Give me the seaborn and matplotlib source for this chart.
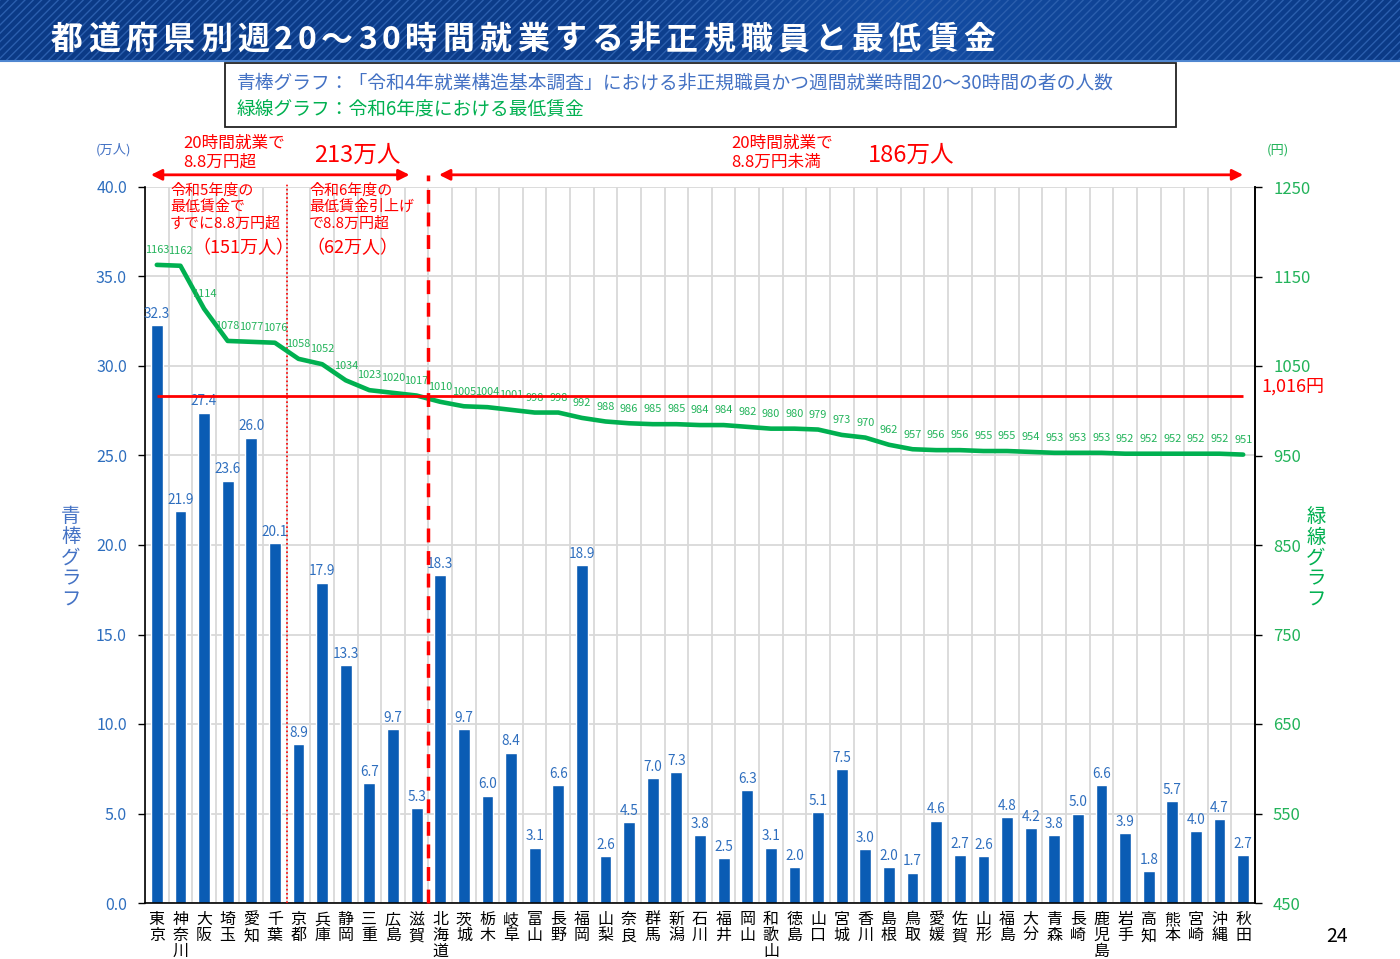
import numpy as np
import pandas as pd
import matplotlib
matplotlib.use("Agg")
import matplotlib.pyplot as plt
import seaborn as sns
from matplotlib.patches import Rectangle

# -----------------------------
# DATA
# -----------------------------
prefs = ["東京", "神奈川", "大阪", "埼玉", "愛知", "千葉", "京都", "兵庫", "静岡", "三重",
         "広島", "滋賀", "北海道", "茨城", "栃木", "岐阜", "富山", "長野", "福岡", "山梨",
         "奈良", "群馬", "新潟", "石川", "福井", "岡山", "和歌山", "徳島", "山口", "宮城",
         "香川", "島根", "鳥取", "愛媛", "佐賀", "山形", "福島", "大分", "青森", "長崎",
         "鹿児島", "岩手", "高知", "熊本", "宮崎", "沖縄", "秋田"]
workers = [32.3, 21.9, 27.4, 23.6, 26.0, 20.1, 8.9, 17.9, 13.3, 6.7,
           9.7, 5.3, 18.3, 9.7, 6.0, 8.4, 3.1, 6.6, 18.9, 2.6,
           4.5, 7.0, 7.3, 3.8, 2.5, 6.3, 3.1, 2.0, 5.1, 7.5,
           3.0, 2.0, 1.7, 4.6, 2.7, 2.6, 4.8, 4.2, 3.8, 5.0,
           6.6, 3.9, 1.8, 5.7, 4.0, 4.7, 2.7]
wages = [1163, 1162, 1114, 1078, 1077, 1076, 1058, 1052, 1034, 1023,
         1020, 1017, 1010, 1005, 1004, 1001, 998, 998, 992, 988,
         986, 985, 985, 984, 984, 982, 980, 980, 979, 973,
         970, 962, 957, 956, 956, 955, 955, 954, 953, 953,
         953, 952, 952, 952, 952, 952, 951]
threshold = 1016
group_sizes = [6, 6, 35]   # 令和5年度で超 / 令和6年度で超 / 未満

title = "都道府県別週20～30時間就業する非正規職員と最低賃金"

# -----------------------------
# STYLE
# -----------------------------
sns.set_theme(style="white")
plt.rcParams['font.family'] = ['Noto Sans CJK JP', 'DejaVu Sans']

BAR = "#0A5CB4"
GREEN = "#00B050"
GREEN_TXT = "#22B35A"
BLUE_TXT = "#2E6EBE"
RED = "#FF0000"
GRID = "#D9D9D9"

W, H = 1400, 959
fig = plt.figure(figsize=(14, 9.59), dpi=100)


def px(x, y):
    return x / W, 1 - y / H


# -----------------------------
# TITLE BAND
# -----------------------------
band = fig.add_axes([0, 1 - 60 / H, 1, 60 / H])
grad = np.interp(np.linspace(0, 1, 400), [0, 0.45, 0.65, 0.8, 1.0], [0.0, 0.1, 0.6, 0.3, 0.0])
c0 = np.array(matplotlib.colors.to_rgb("#0B3A86"))
c1 = np.array(matplotlib.colors.to_rgb("#1A5AB8"))
img = c0[None, None, :] * (1 - grad[None, :, None]) + c1[None, None, :] * grad[None, :, None]
band.imshow(img, aspect="auto", extent=[0, 1, 0, 1])
band.add_patch(Rectangle((0, 0), 1, 1, facecolor="none", edgecolor="#2B5FAE", hatch="////", lw=0))
band.set_xlim(0, 1)
band.set_ylim(0, 1)
band.axis("off")
fig.add_artist(plt.Line2D([0, 1], [1 - 61 / H, 1 - 61 / H], color="#4F86D0", lw=1.5))

x0 = 51
for ch in title:
    fig.text(*px(x0, 40), ch, color="white", fontsize=23, fontweight="bold",
             ha="left", va="center")
    x0 += 23.5 if ord(ch) < 128 else 37.2

# -----------------------------
# LEGEND BOX
# -----------------------------
fig.add_artist(Rectangle(px(225, 127), 951 / W, 64 / H, facecolor="white",
                         edgecolor="#222222", lw=1.3))
fig.text(*px(237, 83), "青棒グラフ：「令和4年就業構造基本調査」における非正規職員かつ週間就業時間20～30時間の者の人数",
         color="#4472C4", fontsize=13.5, ha="left", va="center")
fig.text(*px(237, 110), "緑線グラフ：令和6年度における最低賃金",
         color=GREEN, fontsize=13.5, ha="left", va="center")

# -----------------------------
# MAIN AXES
# -----------------------------
ax = fig.add_axes([145 / W, 1 - 903 / H, 1110 / W, 716 / H])
df = pd.DataFrame({"pref": prefs, "workers": workers, "wage": wages,
                   "pos": np.arange(len(prefs))})

sns.barplot(data=df, x="pref", y="workers", color=BAR, saturation=1, width=0.5,
            ax=ax, zorder=2)
ax.bar_label(ax.containers[0], fmt="%.1f", padding=3, fontsize=9.8, color=BLUE_TXT)

n = len(prefs)
ax.set_xlim(-0.5, n - 0.5)
ax.set_ylim(0, 40)
ax.set_yticks(np.arange(0, 40.1, 5))
ax.set_yticklabels([f"{v:.1f}" for v in np.arange(0, 40.1, 5)], color=BLUE_TXT, fontsize=11.5)
ax.set_xticks(np.arange(n))
ax.set_xticklabels(["\n".join(p) for p in prefs], fontsize=11.5, color="black",
                   linespacing=0.92, va="top")
ax.set_xticks(np.arange(n + 1) - 0.5, minor=True)
ax.tick_params(axis="x", which="major", length=0, pad=6)
ax.tick_params(axis="x", which="minor", length=6, width=1, color="black", direction="out")
ax.tick_params(axis="y", length=5, width=1, color="black", direction="out", pad=8, left=True)
ax.set_xlabel("")
ax.set_ylabel("")
ax.set_axisbelow(True)
ax.grid(False)
ax.grid(axis="x", which="minor", color=GRID, lw=1.3)
ax.grid(axis="y", which="major", color=GRID, lw=1.3)
for s in ["left", "bottom", "right"]:
    ax.spines[s].set_color("black")
    ax.spines[s].set_linewidth(1.2)
ax.spines["top"].set_visible(False)

# -----------------------------
# WAGE LINE
# -----------------------------
ax2 = ax.twinx()
sns.lineplot(data=df, x="pos", y="wage", color=GREEN, lw=3.3, ax=ax2, zorder=3)
for i, w in enumerate(wages):
    ax2.annotate(str(w), (i, w), xytext=(0, 7), textcoords="offset points",
                 ha="center", va="bottom", fontsize=7.9, color=GREEN_TXT)
ax2.set_ylim(450, 1250)
ax2.set_yticks(np.arange(450, 1251, 100))
ax2.set_yticklabels([str(v) for v in range(450, 1251, 100)], color=GREEN_TXT, fontsize=12)
ax2.tick_params(axis="y", length=5, width=1, color="black", direction="out", pad=8, right=True)
ax2.set_xlim(-0.5, n - 0.5)
ax2.set_xlabel("")
ax2.set_ylabel("")
ax2.grid(False)
for s in ["top", "left", "bottom"]:
    ax2.spines[s].set_visible(False)
ax2.spines["right"].set_color("black")
ax2.spines["right"].set_linewidth(1.2)

# threshold line
ax2.hlines(threshold, 0, n - 1, color=RED, lw=2, zorder=4)
fig.text(*px(1261, 387), "1,016円", color=RED, fontsize=13, ha="left", va="center")

# group separators
b1 = group_sizes[0] - 0.5
b2 = group_sizes[0] + group_sizes[1] - 0.5
ax.plot([b1, b1], [0, 1.006], transform=ax.get_xaxis_transform(), color=RED, lw=1.2,
        ls=(0, (1, 1.5)), clip_on=False, zorder=5)
ax2.plot([b2, b2], [0, 1.017], transform=ax2.get_xaxis_transform(), color=RED, lw=2.5,
         ls=(0, (4, 2.5)), clip_on=False, zorder=5)

# arrows
arrow_kw = dict(arrowstyle="<|-|>", color=RED, lw=2, mutation_scale=16, shrinkA=0, shrinkB=0)
ax2.annotate("", xy=(-0.25, 1.017), xytext=(b2 - 0.8, 1.017),
             xycoords=("data", "axes fraction"), textcoords=("data", "axes fraction"),
             arrowprops=arrow_kw, annotation_clip=False)
ax2.annotate("", xy=(b2 + 0.45, 1.017), xytext=(n - 1, 1.017),
             xycoords=("data", "axes fraction"), textcoords=("data", "axes fraction"),
             arrowprops=arrow_kw, annotation_clip=False)

# -----------------------------
# ANNOTATIONS
# -----------------------------
fig.text(*px(96, 150), "(万人)", color="#4472C4", fontsize=9.5, ha="left", va="center")
fig.text(*px(1267, 150), "(円)", color=GREEN_TXT, fontsize=9.5, ha="left", va="center")
fig.text(*px(183, 153), "20時間就業で\n8.8万円超", color=RED, fontsize=12, ha="left",
         va="center", linespacing=1.12)
fig.text(*px(314, 155), "213万人", color=RED, fontsize=17, ha="left", va="center")
fig.text(*px(731, 153), "20時間就業で\n8.8万円未満", color=RED, fontsize=12, ha="left",
         va="center", linespacing=1.12)
fig.text(*px(868, 155), "186万人", color=RED, fontsize=17, ha="left", va="center")
fig.text(*px(170, 207), "令和5年度の\n最低賃金で\nすでに8.8万円超", color=RED, fontsize=10.8,
         ha="left", va="center", linespacing=1.15)
fig.text(*px(309, 207), "令和6年度の\n最低賃金引上げ\nで8.8万円超", color=RED, fontsize=10.8,
         ha="left", va="center", linespacing=1.15)
fig.text(*px(192, 248), "（151万人）", color=RED, fontsize=13, ha="left", va="center")
fig.text(*px(306, 248), "（62万人）", color=RED, fontsize=13, ha="left", va="center")

fig.text(*px(71, 558), "\n".join("青棒グラフ"), color="#4472C4", fontsize=14,
         ha="center", va="center", linespacing=1.0)
fig.text(*px(1316, 558), "\n".join("緑線グラフ"), color=GREEN, fontsize=14,
         ha="center", va="center", linespacing=1.0)

fig.text(*px(1337, 937), "24", color="black", fontsize=14, ha="center", va="center")

fig.savefig("out.png", dpi=100)
